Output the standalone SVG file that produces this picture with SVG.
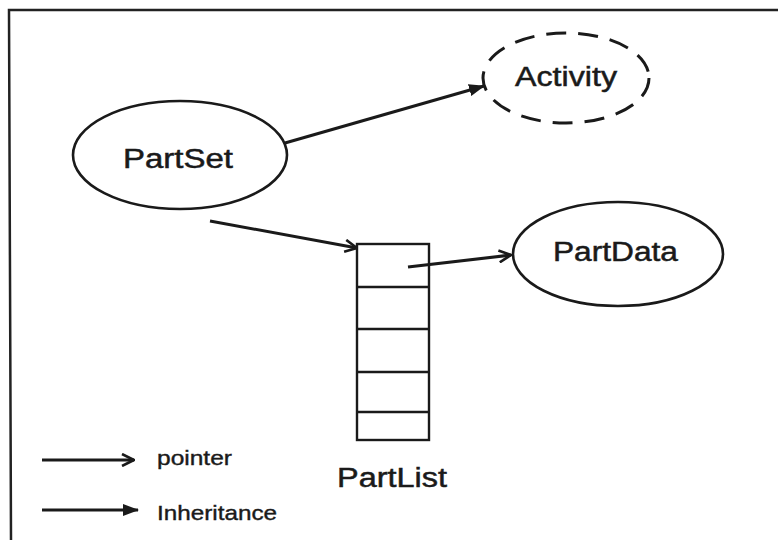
<svg xmlns="http://www.w3.org/2000/svg" width="778" height="540" viewBox="0 0 778 540">
  <defs>
    <style>
      .frame { fill: none; stroke: #222; stroke-width: 2.5; }
      .node { fill: #fff; stroke: #1a1a1a; stroke-width: 2.6; }
      .dashed { stroke-dasharray: 20 12; stroke-width: 3; }
      .cell { fill: none; stroke: #1a1a1a; stroke-width: 2.4; }
      .edge { fill: none; stroke: #1a1a1a; stroke-width: 3; }
      .label { font-family: "Liberation Sans", "DejaVu Sans", sans-serif; font-size: 27px; fill: #1a1a1a; stroke: #1a1a1a; stroke-width: 0.5; }
      .small { font-size: 21px; stroke-width: 0.4; }
    </style>
    <!-- open chevron: pointer -->
    <marker id="open" viewBox="0 0 14 14" refX="13" refY="7" markerWidth="14" markerHeight="14" markerUnits="userSpaceOnUse" orient="auto">
      <path d="M1,1 L13,7 L1,13" fill="none" stroke="#1a1a1a" stroke-width="2.6" stroke-linejoin="miter"/>
    </marker>
    <!-- filled triangle: inheritance -->
    <marker id="filled" viewBox="0 0 16 14" refX="15" refY="7" markerWidth="16" markerHeight="14" markerUnits="userSpaceOnUse" orient="auto">
      <path d="M0,1 L16,7 L0,13 Z" fill="#1a1a1a"/>
    </marker>
  </defs>

  <rect width="778" height="540" fill="#fff"/>

  <!-- outer frame (top and left edges visible) -->
  <path class="frame" d="M778,10 L9,10 L11,540"/>

  <g id="connectors">
    <line class="edge" x1="285" y1="143" x2="484" y2="86" marker-end="url(#filled)"/>
    <line class="edge" x1="210" y1="221" x2="357" y2="248" marker-end="url(#open)"/>
    <line class="edge" x1="408" y1="267" x2="511" y2="255" marker-end="url(#open)"/>
  </g>

  <g id="activity">
    <ellipse class="node dashed" cx="566" cy="78" rx="83" ry="45"/>
    <text class="label" x="515" y="86" textLength="102" lengthAdjust="spacingAndGlyphs">Activity</text>
  </g>

  <g id="partset">
    <ellipse class="node" cx="180" cy="155" rx="107" ry="54"/>
    <text class="label" x="123" y="168" textLength="110" lengthAdjust="spacingAndGlyphs">PartSet</text>
  </g>

  <g id="partdata">
    <ellipse class="node" cx="618" cy="254" rx="105" ry="52"/>
    <text class="label" x="553" y="261" textLength="125" lengthAdjust="spacingAndGlyphs">PartData</text>
  </g>

  <g id="partlist">
    <rect class="cell" x="357" y="244" width="72" height="196"/>
    <line class="cell" x1="357" y1="287" x2="429" y2="287"/>
    <line class="cell" x1="357" y1="329" x2="429" y2="329"/>
    <line class="cell" x1="357" y1="372" x2="429" y2="372"/>
    <line class="cell" x1="357" y1="412" x2="429" y2="412"/>
    <text class="label" x="337" y="487" textLength="110" lengthAdjust="spacingAndGlyphs">PartList</text>
  </g>

  <g id="legend">
    <line class="edge" x1="42" y1="460" x2="134" y2="460" marker-end="url(#open)"/>
    <text class="label small" x="157" y="465" textLength="75" lengthAdjust="spacingAndGlyphs">pointer</text>
    <line class="edge" x1="42" y1="510" x2="138" y2="510" marker-end="url(#filled)"/>
    <text class="label small" x="157" y="520" textLength="120" lengthAdjust="spacingAndGlyphs">Inheritance</text>
  </g>
</svg>
